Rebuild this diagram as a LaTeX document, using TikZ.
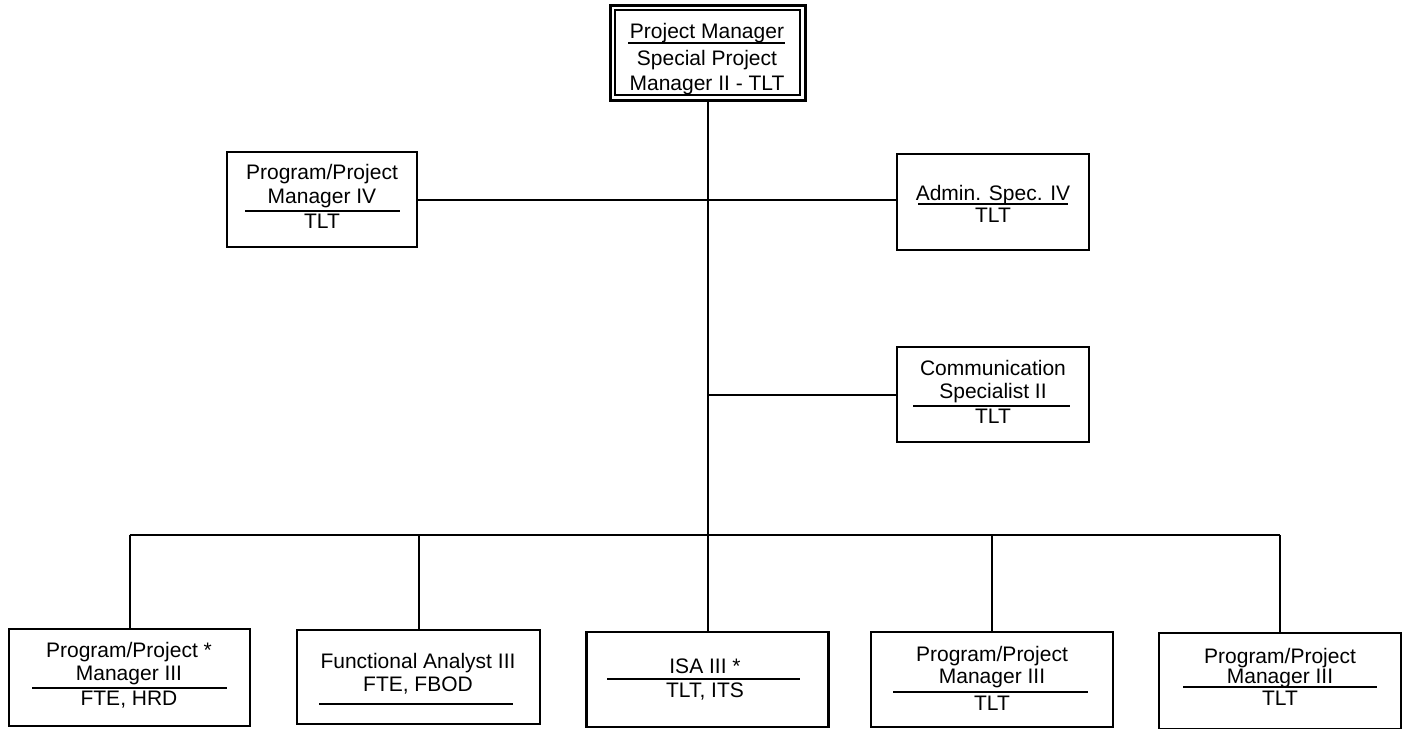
\documentclass[tikz,border=0pt]{standalone}
\usepackage{fontspec}
\setmainfont{Liberation Sans}
\begin{document}
\begin{tikzpicture}[x=0.5pt,y=-0.5pt,
  box/.style={draw, line width=1.2pt, inner sep=0pt, outer sep=0pt},
  wbox/.style={box, minimum width=121pt, minimum height=47.5pt},
  txt/.style={inner sep=0pt, anchor=base, font=\fontsize{10.5}{12}\selectfont},
  link/.style={line width=1pt},
  rulebar/.style={line width=0.9pt}]
\useasboundingbox (0,0) rectangle (1405,729);

% head of the chart: double frame
\node[box, line width=1.5pt, minimum width=97.5pt, minimum height=47.5pt] (pm) at (707.5,52.5) {};
\node[box, line width=0.9pt, minimum width=92.5pt, minimum height=42.5pt] (pmin) at (707.5,52.5) {};
\node[txt] (pm1) at (707,38) {Project Manager};
\draw[rulebar] (628,43) -- (785,43);
\node[txt] (pm2) at (707,65) {Special Project};
\node[txt] (pm3) at (707,90) {Manager II - TLT};

% staff positions
\node[box, minimum width=95pt, minimum height=47.5pt] (pp4) at (322,199.5) {};
\node[txt] (pp4a) at (322,179) {Program/Project};
\node[txt] (pp4b) at (322,203) {Manager IV};
\draw[rulebar] (245,211) -- (400,211);
\node[txt] (pp4c) at (322,228) {TLT};

\node[box, minimum width=96pt, minimum height=48pt] (adm) at (993,202) {};
\node[txt] (adma) at (993,200) {Admin. Spec. IV};
\draw[rulebar] (918,204) -- (1068,204);
\node[txt] (admb) at (993,222) {TLT};

\node[box, minimum width=96pt, minimum height=47.5pt] (com) at (993,394.5) {};
\node[txt] (coma) at (993,375) {Communication};
\node[txt] (comb) at (993,398) {Specialist II};
\draw[rulebar] (913,406) -- (1070,406);
\node[txt] (comc) at (993,423) {TLT};

% bottom row
\node[wbox, minimum width=120.5pt, minimum height=48.5pt] (b1) at (129.5,677.5) {};
\node[txt] (b1a) at (129,657) {Program/Project *};
\node[txt] (b1b) at (129,680) {Manager III};
\draw[rulebar] (32,688) -- (227,688);
\node[txt] (b1c) at (129,705) {FTE, HRD};

\node[wbox, minimum width=121.5pt, minimum height=47pt] (b2) at (418.5,677) {};
\node[txt] (b2a) at (418,668) {Functional Analyst III};
\node[txt] (b2b) at (418,691) {FTE, FBOD};
\draw[rulebar] (319,704) -- (513,704);

\node[wbox] (b3) at (707.5,679.5) {};
\node[txt] (b3a) at (705,673) {ISA III *};
\draw[rulebar] (607,679) -- (800,679);
\node[txt] (b3b) at (705,697) {TLT, ITS};

\node[wbox] (b4) at (992,679.5) {};
\node[txt] (b4a) at (992,661) {Program/Project};
\node[txt] (b4b) at (992,683) {Manager III};
\draw[rulebar] (893,692) -- (1088,692);
\node[txt] (b4c) at (992,710) {TLT};

\node[wbox, minimum height=48pt] (b5) at (1280,681) {};
\node[txt] (b5a) at (1280,663) {Program/Project};
\node[txt] (b5b) at (1280,683) {Manager III};
\draw[rulebar] (1183,687) -- (1377,687);
\node[txt] (b5c) at (1280,705) {TLT};

% connectors
\coordinate (busL) at (129.5,535);
\coordinate (busR) at (1280,535);
\coordinate (junc) at (707.5,535);
\draw[link] (pm.south) -- (junc) -- (b3.north);
\draw[link] (busL) -- (busR);
\draw[link] (pp4.east) -- (pp4.east -| adm.west);
\draw[link] (com.west) -- (com.west -| pm.south);
\foreach \b in {b1,b2,b4,b5}
  \draw[link] (\b.north) -- (\b.north |- busL);
\end{tikzpicture}
\end{document}
